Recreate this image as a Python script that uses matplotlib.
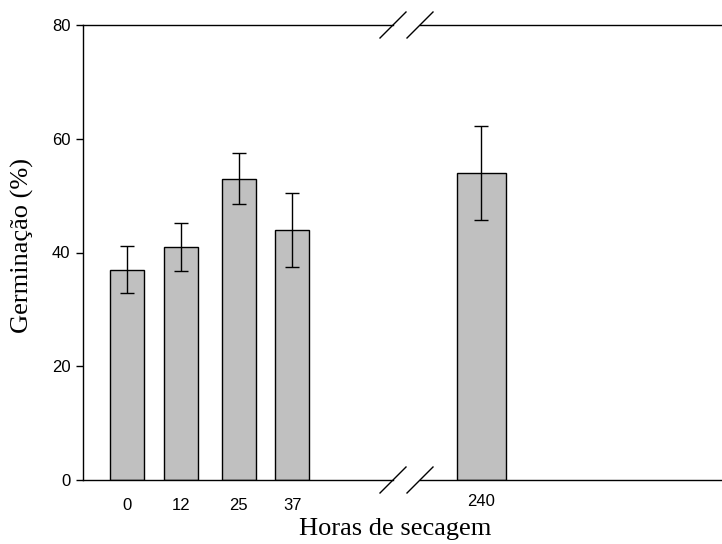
import matplotlib
matplotlib.use('Agg')
from matplotlib import pyplot as plt

# dados
horas_esq = [0, 12, 25, 37]
germ_esq = [37, 41, 53, 44]
erro_esq = [4.2, 4.2, 4.5, 6.5]

horas_dir = [240]
germ_dir = [54]
erro_dir = [8.2]

tick_font = ['Liberation Sans', 'DejaVu Sans']
label_font = ['Liberation Serif', 'DejaVu Serif']

W, H = 722, 544
fig = plt.figure(figsize=(W / 100, H / 100), dpi=100)

# eixo esquerdo (0-37 h) e direito (240 h)
ax1 = fig.add_axes([83 / W, 64 / H, (393 - 83) / W, 455 / H])
ax2 = fig.add_axes([420 / W, 64 / H, (W - 420) / W, 455 / H])

bar_kw = dict(color='#c0c0c0', edgecolor='black', linewidth=1.0, zorder=2)
err_kw = dict(fmt='none', ecolor='black', elinewidth=1.0, capsize=5, capthick=1.0, zorder=3)

ax1.bar(horas_esq, germ_esq, width=7.6, **bar_kw)
ax1.errorbar(horas_esq, germ_esq, yerr=erro_esq, **err_kw)
ax2.bar(horas_dir, germ_dir, width=11, **bar_kw)
ax2.errorbar(horas_dir, germ_dir, yerr=erro_dir, **err_kw)

ax1.set_xlim(-9.87, 59.6)
ax2.set_xlim(226.3, 294)
for ax in (ax1, ax2):
    ax.set_ylim(0, 80)
    ax.spines['right'].set_visible(False)
    for s in ax.spines.values():
        s.set_linewidth(1.0)

ax2.spines['left'].set_visible(False)
ax2.tick_params(axis='y', left=False, labelleft=False)

ax1.set_yticks([0, 20, 40, 60, 80])
ax1.tick_params(axis='y', direction='out', length=5, width=1, pad=4)
for lab in ax1.get_yticklabels():
    lab.set_family(tick_font)
    lab.set_fontsize(12)

ax1.set_xticks(horas_esq)
ax1.set_xticks([0], minor=True)
ax1.tick_params(axis='x', which='major', length=0, pad=13)
ax1.tick_params(axis='x', which='minor', length=4, width=1, direction='out')
ax2.set_xticks(horas_dir)
ax2.tick_params(axis='x', which='major', length=0, pad=10)
for ax in (ax1, ax2):
    for lab in ax.get_xticklabels():
        lab.set_family(tick_font)
        lab.set_fontsize(12)

# marcas de quebra do eixo
dx1, dy = 13 / (393 - 83), 13 / 455
dx2 = 13 / (W - 420)
for y in (0, 1):
    ax1.plot([1 - dx1, 1 + dx1], [y - dy, y + dy], transform=ax1.transAxes,
             color='black', lw=1.0, clip_on=False)
    ax2.plot([-dx2, dx2], [y - dy, y + dy], transform=ax2.transAxes,
             color='black', lw=1.0, clip_on=False)

fig.text(395 / W, 1 - 529 / H, 'Horas de secagem', family=label_font,
         fontsize=19, ha='center', va='center')
fig.text(22 / W, 1 - 245 / H, 'Germinação (%)', family=label_font,
         fontsize=19, ha='center', va='center', rotation=90)

fig.savefig('out.png', dpi=100)
